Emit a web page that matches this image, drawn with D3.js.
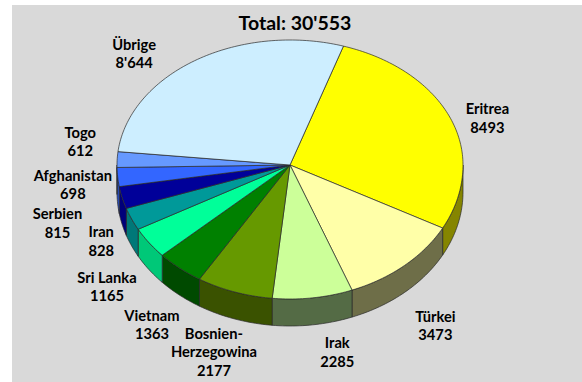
<!DOCTYPE html>
<html>
<head>
<meta charset="utf-8">
<script src="https://cdn.jsdelivr.net/npm/d3@7"></script>
<style>
  html, body { margin: 0; padding: 0; background: #ffffff; }
  svg { display: block; }
</style>
</head>
<body>
<svg id="chart" width="582" height="382"></svg>
<script>
// Asylum applications by country of origin (clockwise from the top)
const categories = ["Eritrea", "Türkei", "Irak", "Bosnien-Herzegowina", "Vietnam",
                    "Sri Lanka", "Iran", "Serbien", "Afghanistan", "Togo", "Übrige"];
const values = [8493, 3473, 2285, 2177, 1363, 1165, 828, 815, 698, 612, 8644];
// Category names as they are wrapped in the labels
const labelLines = [["Eritrea"], ["Türkei"], ["Irak"], ["Bosnien-", "Herzegowina"], ["Vietnam"],
                    ["Sri Lanka"], ["Iran"], ["Serbien"], ["Afghanistan"], ["Togo"], ["Übrige"]];
// The "Übrige" figure is printed with a thousands separator
const groupedLabel = [false, false, false, false, false, false, false, false, false, false, true];

// Styling
const topColors  = ["#ffff00", "#ffffa8", "#ccff99", "#669900", "#008000",
                    "#00ff99", "#009999", "#000099", "#3366ff", "#6699ff", "#cdeeff"];
const sideColors = ["#858500", "#6e6e48", "#546b45", "#3a5200", "#004a00",
                    "#00c878", "#007878", "#00007a", "#2952cc", "#5580dd", "#a8c4d4"];
// Fine offsets for the outside labels (px), relative to their angular anchor
const labelNudge = [[-2, 1], [3, 10], [19, -12], [-7, -3], [-1, 5],
                    [-8, 5], [8, -5], [-24, 9], [-3, 1], [5, -18], [-39, -3]];

const W = 582, H = 382;
const cx = 290, cy = 165;       // centre of the top face
const rx = 173;                 // horizontal radius
const ryBack = 125, ryFront = 134; // slight perspective: front half drawn deeper
const depth = 27;               // thickness of the disc
const startDeg = 18;

const svg = d3.select("#chart");

// Panel background
svg.append("rect").attr("x", 12).attr("y", 5).attr("width", W - 12).attr("height", H - 5)
  .attr("fill", "#d9d9d9");

// Title shows the total
const fmtGrouped = d3.formatLocale({ decimal: ".", thousands: "'", grouping: [3], currency: ["", ""] }).format(",d");
const fmtPlain = d3.format("d");
const total = d3.sum(values);
svg.append("text")
  .attr("x", 295).attr("y", 22)
  .attr("text-anchor", "middle").attr("dominant-baseline", "central")
  .attr("font-family", "Lato, 'Open Sans', sans-serif").attr("font-weight", "bold")
  .attr("font-size", 19.5).attr("fill", "#000")
  .text("Total: " + fmtGrouped(total));

// Angular layout of the slices
const a0 = startDeg * Math.PI / 180;
const pie = d3.pie().sort(null).value(d => d).startAngle(a0).endAngle(a0 + 2 * Math.PI);
const arcs = pie(values);

// Project an angle on the rim of the disc to screen coordinates
function rim(a, dz) {
  const s = Math.sin(a), c = Math.cos(a);
  const ry = c > 0 ? ryBack : ryFront;
  return [cx + rx * s, cy - ry * c + (dz || 0)];
}
function rimPoints(aStart, aEnd, dz) {
  const n = Math.max(2, Math.ceil(Math.abs(aEnd - aStart) / 0.02));
  return d3.range(n + 1).map(i => rim(aStart + (aEnd - aStart) * i / n, dz));
}

const line = d3.line();
const g = svg.append("g");

// Outer walls (only the front half of the disc is visible)
const frontStart = Math.PI / 2, frontEnd = 3 * Math.PI / 2;
arcs.forEach((d, i) => {
  const s = Math.max(d.startAngle, frontStart);
  const e = Math.min(d.endAngle, frontEnd);
  if (s >= e) return;
  const pts = rimPoints(s, e, 0).concat(rimPoints(e, s, depth));
  g.append("path")
    .attr("d", line(pts) + "Z")
    .attr("fill", sideColors[i])
    .attr("stroke", "#2a2a2a").attr("stroke-width", 0.7).attr("stroke-linejoin", "round");
});

// Top faces
arcs.forEach((d, i) => {
  const pts = [[cx, cy]].concat(rimPoints(d.startAngle, d.endAngle, 0));
  g.append("path")
    .attr("d", line(pts) + "Z")
    .attr("fill", topColors[i])
    .attr("stroke", "#2a2a2a").attr("stroke-width", 0.7).attr("stroke-linejoin", "round");
});

// Outside labels: anchored on an enlarged ellipse at each slice's mid-angle
const lRx = 215, lRyBack = 130, lRyFront = 200, lineH = 18.5;
const labels = svg.append("g")
  .attr("font-family", "Lato, 'Open Sans', sans-serif")
  .attr("font-weight", "bold").attr("font-size", 14.7).attr("fill", "#000")
  .attr("text-anchor", "middle");

arcs.forEach((d, i) => {
  const m = (d.startAngle + d.endAngle) / 2;
  const s = Math.sin(m), c = Math.cos(m);
  const x = cx + lRx * s + labelNudge[i][0];
  const y = cy - (c > 0 ? lRyBack : lRyFront) * c + labelNudge[i][1];
  const lines = labelLines[i].concat([(groupedLabel[i] ? fmtGrouped : fmtPlain)(values[i])]);
  const t = labels.append("text").attr("dominant-baseline", "central");
  lines.forEach((txt, k) => {
    t.append("tspan").attr("x", x).attr("y", y + (k - (lines.length - 1) / 2) * lineH).text(txt);
  });
});
</script>
</body>
</html>
